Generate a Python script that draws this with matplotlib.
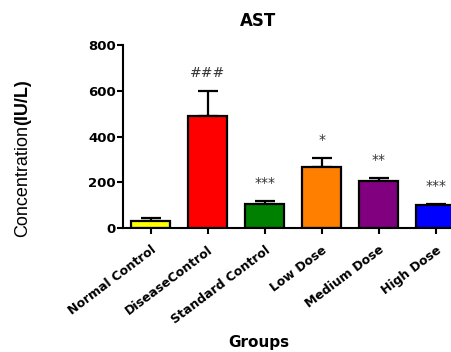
import matplotlib
matplotlib.use('Agg')
import matplotlib.pyplot as plt
import numpy as np

groups = ['Normal Control', 'DiseaseControl', 'Standard Control',
          'Low Dose', 'Medium Dose', 'High Dose']
means = [32, 490, 105, 268, 205, 99]
sems = [10, 110, 13, 40, 12, 7]
marks = ['', '###', '***', '*', '**', '***']
colors = ['#ffff00', '#ff0000', '#008000', '#ff8000', '#800080', '#0000ff']

fig = plt.figure(figsize=(4.52, 3.52), dpi=100)
ax = fig.add_axes([0.272, 0.352, 0.755, 0.520])

x = np.arange(len(groups))
ax.bar(x, means, width=0.68, color=colors, edgecolor='black', linewidth=1.6, zorder=2)
ax.errorbar(x, means, yerr=[np.zeros(len(sems)), sems], fmt='none', ecolor='black',
            elinewidth=1.6, capsize=7, capthick=1.6, zorder=1)

for xi, m, s, t in zip(x, means, sems, marks):
    if t:
        ax.annotate(t, (xi, m + s), xytext=(0, 8), textcoords='offset points',
                    ha='center', va='bottom', fontsize=10, color='#333333')

ax.set_xlim(-0.486, 5.5)
ax.set_ylim(0, 800)
ax.set_yticks([0, 200, 400, 600, 800])
ax.set_xticks(x)
ax.set_xticklabels(groups, rotation=37, ha='right', rotation_mode='anchor',
                   fontsize=9, fontweight='bold')
for lab in ax.get_yticklabels():
    lab.set_fontweight('bold')
    lab.set_fontsize(9.5)

ax.spines['top'].set_visible(False)
ax.spines['right'].set_visible(False)
ax.spines['left'].set_linewidth(1.5)
ax.spines['bottom'].set_linewidth(1.5)
ax.tick_params(axis='both', length=4, width=1.5, pad=1)
ax.tick_params(axis='x', pad=7)

fig.text(258 / 452, 1 - 21 / 352, 'AST', ha='center', va='center',
         fontsize=12, fontweight='bold')
fig.text(259 / 452, 1 - 343 / 352, 'Groups', ha='center', va='center',
         fontsize=11, fontweight='bold')

# y label: plain part then bold unit, stacked upward on one baseline
t1 = fig.text(27 / 452, 1 - 237 / 352, 'Concentration', rotation=90,
              rotation_mode='anchor', ha='left', va='baseline',
              fontsize=13, family='Liberation Sans')
fig.canvas.draw()
bb = t1.get_window_extent()
fig.text(27 / 452, bb.y1 / fig.bbox.height, '(IU/L)', rotation=90,
         rotation_mode='anchor', ha='left', va='baseline',
         fontsize=13, fontweight='bold', family='Liberation Sans')

fig.savefig('out.png', dpi=100)
